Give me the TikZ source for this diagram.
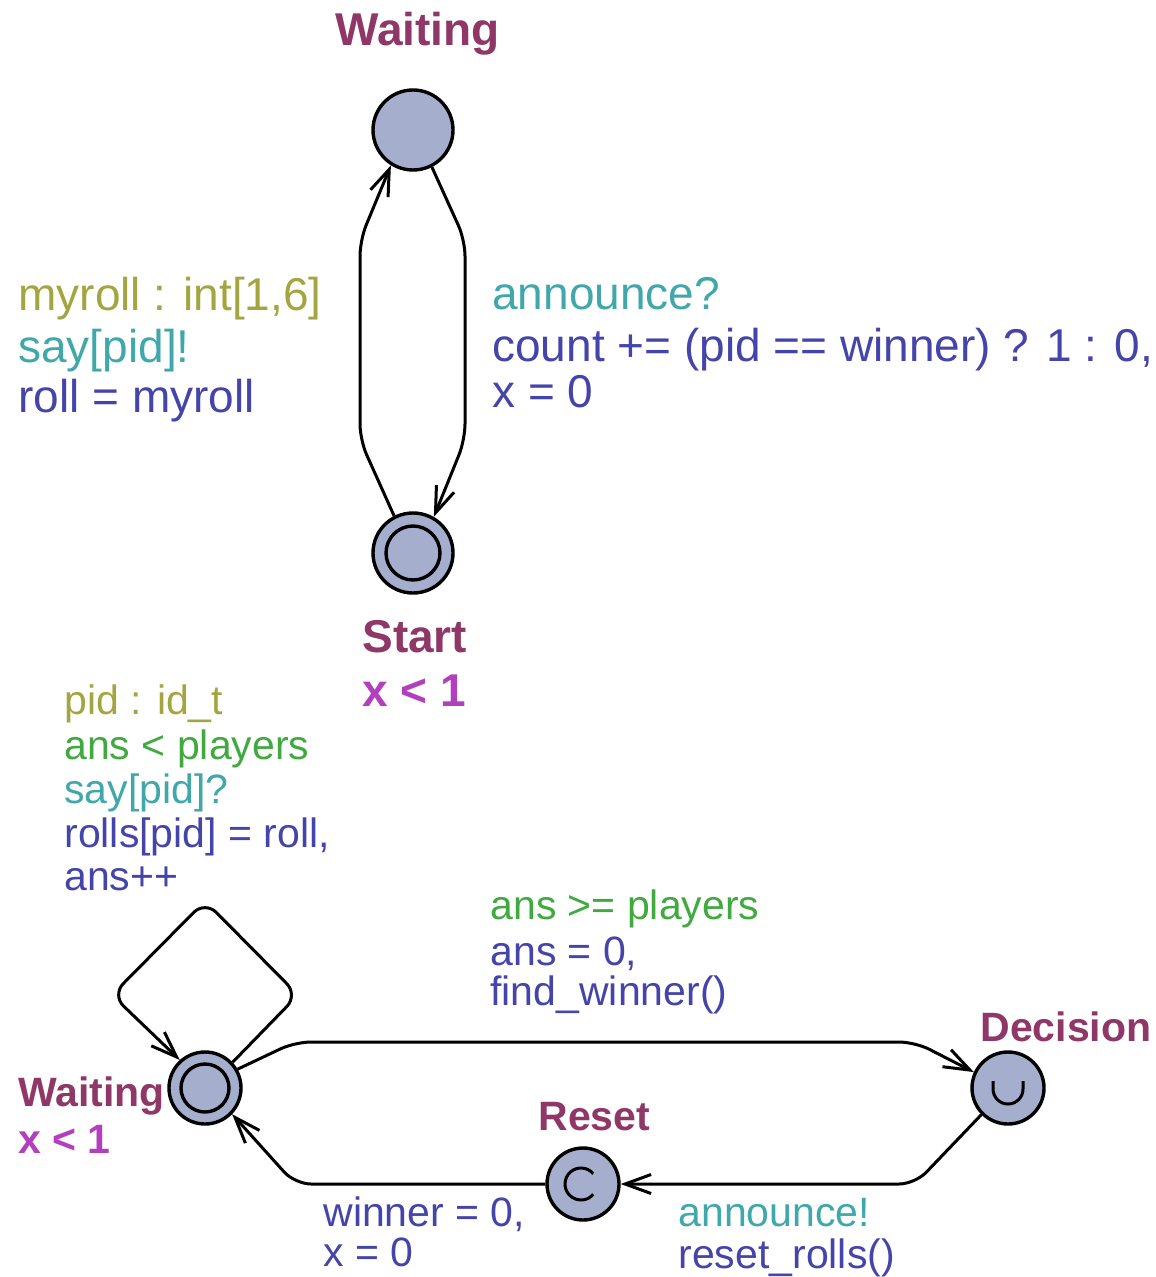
\documentclass[tikz,border=0pt]{standalone}
\usepackage{fontspec}
\setmainfont{Liberation Sans}
\usetikzlibrary{arrows.meta}
\definecolor{locfill}{RGB}{165,174,204}
\definecolor{namecol}{RGB}{143,56,104}
\definecolor{invcol}{RGB}{178,64,190}
\definecolor{selcol}{RGB}{163,166,64}
\definecolor{guardcol}{RGB}{64,170,64}
\definecolor{synccol}{RGB}{64,168,170}
\definecolor{updcol}{RGB}{68,68,170}
\begin{document}
\begin{tikzpicture}[x=0.5pt, y=-0.5pt, font=\fontsize{23}{27}\selectfont,
    loc/.style={circle, draw, line width=1.7pt, fill=locfill, minimum size=#1, inner sep=0pt},
    edge/.style={line width=1.5pt, rounded corners=8pt, -{Straight Barb[length=13pt,width=9.5pt]}},
    lbl/.style={anchor=base west, inner sep=0pt},
    slbl/.style={lbl, font=\fontsize{20.5}{24}\selectfont},
    locname/.style={lbl, font=\fontsize{23}{27}\selectfont\bfseries, text=namecol},
    slocname/.style={lbl, font=\fontsize{20.5}{24}\selectfont\bfseries, text=namecol},
    invname/.style={locname, text=invcol},
    sinvname/.style={slocname, text=invcol}]
    \useasboundingbox (0,0) rectangle (1155,1277);
    % locations
    \node[loc=40pt] (wtop) at (413,130) {};
    \node[loc=40pt] (start) at (413,553) {};
    \draw[line width=1.7pt] (start.center) circle[radius=13.5pt];
    \node[loc=36pt] (wbot) at (205,1088) {};
    \draw[line width=1.7pt] (wbot.center) circle[radius=12pt];
    \node[loc=36pt] (dec) at (1008,1088) {};
    \draw[line width=1.5pt] ([shift={(-15,-7)}]dec.center) -- ++(0,8) arc[start angle=180, end angle=360, radius=7.5pt] -- ++(0,-8);
    \node[loc=36pt] (rst) at (583,1184) {};
    \draw[line width=1.5pt] ([shift={(-2,0)}]rst.center) ++(40:8pt) arc[start angle=40, end angle=320, radius=8pt];
    \node[locname] (nwtop) at (335,46) {Waiting};
    \node[locname] (nstart) at (362,652) {Start};
    \node[invname] (istart) at (362,706) {x < 1};
    \node[slocname] (nwbot) at (18,1106) {Waiting};
    \node[sinvname] (iwbot) at (18,1153) {x < 1};
    \node[slocname] (ndec) at (980,1041) {Decision};
    \node[slocname] (nrst) at (538,1130) {Reset};
    % edges
    \draw[edge] (start.117) -- (360,440) -- (360,240) -- (wtop.-122);
    \draw[edge] (wtop.-63) -- (465,240) -- (465,440) -- (start.60);
    \draw[edge] (wbot.43) -- (298,995) -- (205,901) -- (112,995) -- (wbot.132);
    \draw[edge] (wbot.30) -- (295,1042) -- (915,1042) -- (dec.155);
    \draw[edge] (dec.-135) -- (915,1184) -- (rst.east);
    \draw[edge] (rst.west) -- (295,1184) -- (wbot.-44);
    % labels
    \node[lbl, text=selcol] (a1) at (18,311) {myroll : int[1,6]};
    \node[lbl, text=synccol] (a2) at (18,363) {say[pid]!};
    \node[lbl, text=updcol] (a3) at (18,413) {roll = myroll};
    \node[lbl, text=synccol] (b1) at (492,310) {announce?};
    \node[lbl, text=updcol] (b2) at (492,362) {count += (pid == winner) ? 1 : 0,};
    \node[lbl, text=updcol] (b3) at (492,408) {x = 0};
    \node[slbl, text=selcol] (c1) at (64,714) {pid : id\_t};
    \node[slbl, text=guardcol] (c2) at (64,759) {ans < players};
    \node[slbl, text=synccol] (c3) at (64,803) {say[pid]?};
    \node[slbl, text=updcol] (c4) at (64,847) {rolls[pid] = roll,};
    \node[slbl, text=updcol] (c5) at (64,890) {ans++};
    \node[slbl, text=guardcol] (d1) at (490,919) {ans >= players};
    \node[slbl, text=updcol] (d2) at (490,965) {ans = 0,};
    \node[slbl, text=updcol] (d3) at (490,1005) {find\_winner()};
    \node[slbl, text=updcol] (e1) at (323,1226) {winner = 0,};
    \node[slbl, text=updcol] (e2) at (323,1266) {x = 0};
    \node[slbl, text=synccol] (f1) at (678,1226) {announce!};
    \node[slbl, text=updcol] (f2) at (678,1268) {reset\_rolls()};
\end{tikzpicture}
\end{document}
